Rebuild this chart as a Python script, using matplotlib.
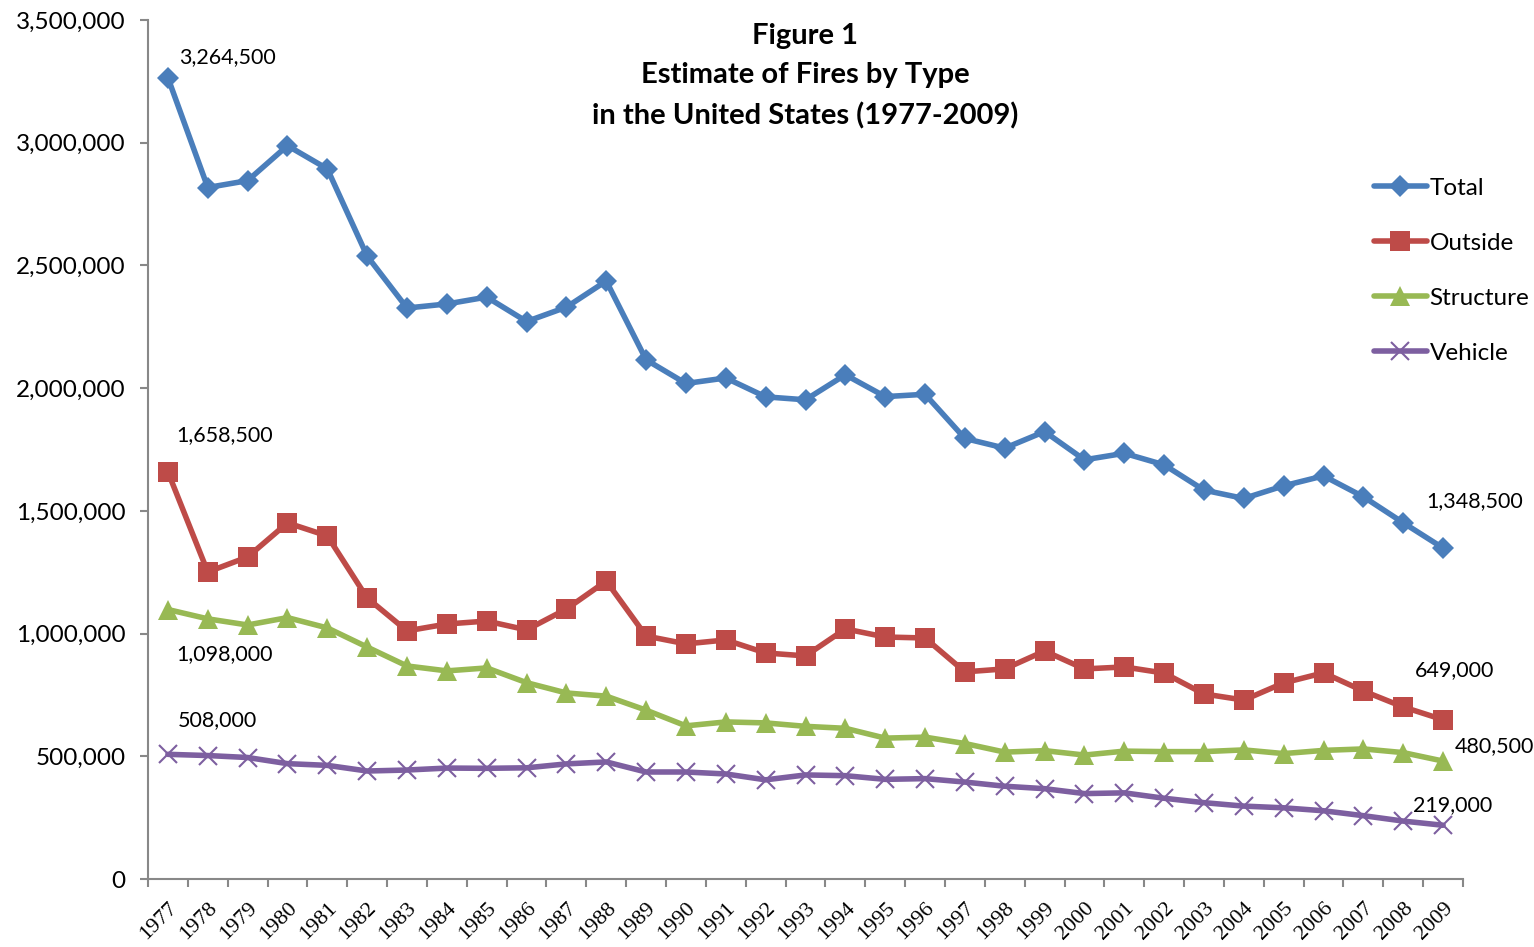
import matplotlib
matplotlib.use("Agg")
import matplotlib.pyplot as plt
import numpy as np
from matplotlib.ticker import FuncFormatter

years = list(range(1977, 2010))

total = [3264500, 2817500, 2845500, 2988000, 2893500, 2538000, 2326500, 2343000, 2371000,
         2271500, 2330000, 2436500, 2115500, 2019000, 2041500, 1964500, 1952500, 2054500,
         1965500, 1975000, 1795000, 1755500, 1823000, 1708000, 1734500, 1687500, 1584500,
         1550500, 1602000, 1642500, 1557500, 1451500, 1348500]
outside = [1658500, 1251000, 1312000, 1451000, 1398000, 1145000, 1011000, 1039000, 1051000,
           1015000, 1100000, 1214000, 990000, 958000, 974000, 921000, 909000, 1019000,
           986000, 982000, 844000, 856000, 929000, 856000, 864000, 839000, 754000,
           729000, 799000, 840000, 766000, 701000, 649000]
structure = [1098000, 1060000, 1035000, 1065000, 1023000, 945000, 868000, 848000, 860000,
             800000, 758000, 745000, 688000, 624000, 640000, 636000, 622000, 614000,
             574000, 578000, 552000, 517000, 523000, 505000, 521000, 519000, 519000,
             526000, 511000, 524000, 530000, 515000, 480500]
vehicle = [508000, 503000, 495000, 470000, 463000, 440000, 444000, 452000, 451000,
           453000, 469000, 477000, 436000, 436000, 428000, 404000, 424000, 421000,
           406000, 409000, 395000, 378000, 368000, 348000, 351000, 329000, 311000,
           297000, 290000, 278000, 258000, 236000, 219000]

series = [
    ("Total", total, "#4A7EBB", "D", 11),
    ("Outside", outside, "#BE4B48", "s", 14),
    ("Structure", structure, "#98B954", "^", 15),
    ("Vehicle", vehicle, "#7D5FA0", "x", 13),
]

sans = ["Lato", "DejaVu Sans"]

fig = plt.figure(figsize=(15.34, 9.47), dpi=100)
ax = fig.add_axes([148 / 1534, 1 - 879 / 947, (1463 - 148) / 1534, (879 - 20) / 947])

x = np.arange(len(years))
for name, vals, col, mk, ms in series:
    ax.plot(x, vals, color=col, lw=4, marker=mk, markersize=ms,
            markeredgewidth=1.5 if mk == "x" else 0, markeredgecolor=col,
            label=name, solid_capstyle="round", clip_on=False)

ax.set_xlim(-0.5, len(years) - 0.5)
ax.set_ylim(0, 3500000)
ax.set_yticks(np.arange(0, 3500001, 500000))
ax.yaxis.set_major_formatter(FuncFormatter(lambda v, p: f"{int(v):,}"))
for lab in ax.get_yticklabels():
    lab.set_family(sans)
    lab.set_fontsize(17.5)

ax.set_xticks(x)
ax.set_xticklabels([str(y) for y in years], rotation=45, ha="right", rotation_mode="anchor",
                   family="Liberation Serif", fontsize=16)
ax.set_xticks(np.arange(-0.5, len(years)), minor=True)
ax.tick_params(axis="x", which="major", length=0, pad=14)
ax.tick_params(axis="x", which="minor", length=6, color="#888888", width=1.5)
ax.tick_params(axis="y", length=6, color="#888888", width=1.5, pad=10)

for s in ["top", "right"]:
    ax.spines[s].set_visible(False)
for s in ["left", "bottom"]:
    ax.spines[s].set_color("#888888")
    ax.spines[s].set_linewidth(1.5)

ann = dict(family=sans, fontsize=15.5)
ax.text(0.27, 3264500 + 45000, "3,264,500", ha="left", va="bottom", **ann)
ax.text(0.2, 1658500 + 110000, "1,658,500", ha="left", va="bottom", **ann)
ax.text(0.2, 1098000 - 140000, "1,098,000", ha="left", va="top", **ann)
ax.text(0.25, 508000 + 100000, "508,000", ha="left", va="bottom", **ann)
ax.text(32.8, 1348500 + 150000, "1,348,500", ha="center", va="bottom", **ann)
ax.text(32.3, 649000 + 160000, "649,000", ha="center", va="bottom", **ann)
ax.text(32.3, 480500 + 20000, "480,500", ha="left", va="bottom", **ann)
ax.text(32.25, 219000 + 40000, "219,000", ha="center", va="bottom", **ann)

fig.text(805 / 1534, 1 - 76 / 947, "Figure 1\nEstimate of Fires by Type\nin the United States (1977-2009)",
         ha="center", va="center", family=sans, fontsize=21, fontweight="bold", linespacing=1.63)

leg = ax.legend(loc="upper left", frameon=False, prop={"family": sans, "size": 17.5},
                handlelength=2.2, handletextpad=0.1, labelspacing=1.4, borderaxespad=0)
leg.set_bbox_to_anchor((1364 / 1534, 1 - 168 / 947), transform=fig.transFigure)

fig.savefig("out.png", dpi=100)
